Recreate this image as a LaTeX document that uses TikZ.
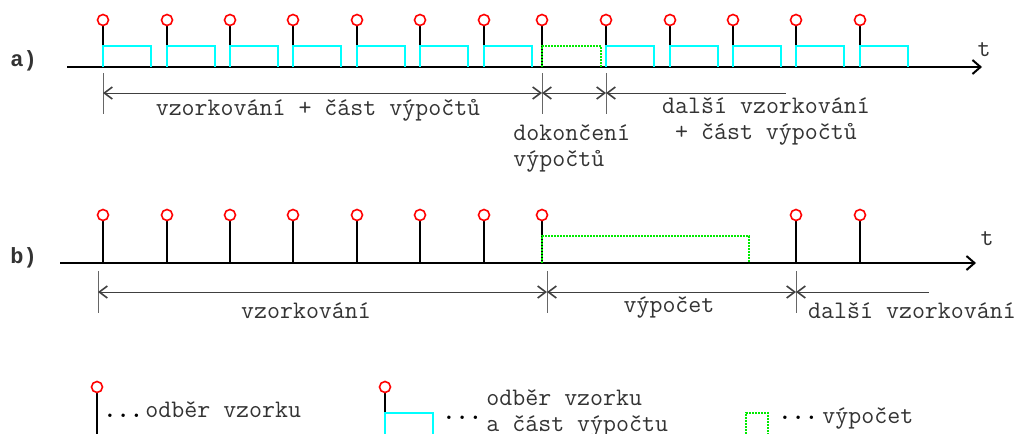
\documentclass[tikz,border=0pt]{standalone}
\usepackage{fontspec}
\newfontfamily\rowfont{Liberation Mono}
\usetikzlibrary{arrows.meta}
\definecolor{smpRed}{rgb}{1,0,0}
\definecolor{partCyan}{rgb}{0,1,1}
\definecolor{calcGreen}{rgb}{0,0.92,0}
\definecolor{txtGray}{gray}{0.2}
\tikzset{
  axis/.style={line width=1pt, -{Straight Barb[length=4pt,width=7pt]}},
  stem/.style={line width=1pt, black},
  probe/.style={draw=smpRed, line width=0.8pt, fill=white},
  part/.style={draw=partCyan, line width=1pt},
  calcbox/.style={draw=calcGreen, line width=0.8pt, dash pattern=on 0.8pt off 0.7pt},
  ext/.style={draw=black!60, line width=0.5pt},
  dim/.style={draw=black!75, line width=0.5pt},
  lbl/.style={font=\ttfamily\fontsize{12.6}{13}\selectfont, text=txtGray, inner sep=0pt},
  rowlbl/.style={font=\rowfont\bfseries\fontsize{11}{13}\selectfont, text=txtGray, inner sep=0pt},
  dots/.style={font=\ttfamily\bfseries\fontsize{12.6}{13}\selectfont, inner sep=0pt}
}

\begin{document}
\begin{tikzpicture}[x=0.5pt, y=-0.5pt, >={Straight Barb[length=4pt,width=6pt,line width=0.8pt]}]
  \useasboundingbox (0,0) rectangle (1024,434);

  % a) sampling with part of the computation after each sample
  \coordinate (axA0) at (67,67);
  \coordinate (axA1) at (982,67);
  \draw[axis] (axA0) -- (axA1);
  \node[rowlbl, anchor=base west] (labA) at (10,66) {a)};
  \node[lbl, anchor=base] (tA) at (984,56) {t};
  \foreach \x in {103,167,230,293,357,420,484,542,606,670,733,796,860}
    \draw[stem] (\x,25) -- (\x,67);
  \foreach \x in {103,167,230,293,357,420,484,606,670,733,796,860}
    \draw[part] (\x,67) -- (\x,46) -- ({\x+48},46) -- ({\x+48},67);
  \draw[calcbox] (542,67) -- (542,46) -- (601,46) -- (601,67);
  \foreach \x in {103,167,230,293,357,420,484,542,606,670,733,796,860}
    \draw[probe] (\x,20) circle (5.5);

  % dimensions
  \foreach \x in {103,542,606}
    \draw[ext] (\x,73) -- (\x,114);
  \coordinate (dA0) at (103,93);
  \coordinate (dA1) at (542,93);
  \coordinate (dA2) at (606,93);
  \coordinate (dA3) at (786,93);
  \draw[dim, <->] (dA0) -- (dA1);
  \draw[dim, <->] (dA1) -- (dA2);
  \draw[dim, <-] (dA2) -- (dA3);
  \node[lbl, anchor=base] (sampA) at (318,115) {vzorkování + část výpočtů};
  \node[lbl, anchor=west, align=left] (finA) at (513,148) {dokončení\\výpočtů};
  \node[lbl, align=center] (nextA) at (766,121) {další vzorkování\\+ část výpočtů};

  % b) sampling first, then the whole computation
  \coordinate (axB0) at (60,263);
  \coordinate (axB1) at (976,263);
  \draw[axis] (axB0) -- (axB1);
  \node[rowlbl, anchor=base west] (labB) at (10,263) {b)};
  \node[lbl, anchor=base] (tB) at (987,245) {t};
  \foreach \x in {103,167,230,293,357,420,484,542,796,860}
    \draw[stem] (\x,220) -- (\x,263);
  \draw[calcbox] (542,263) -- (542,236) -- (749,236) -- (749,263);
  \foreach \x in {103,167,230,293,357,420,484,542,796,860}
    \draw[probe] (\x,215) circle (5.5);

  \foreach \x in {98,547,796}
    \draw[ext] (\x,271) -- (\x,313);
  \coordinate (dB0) at (98,292);
  \coordinate (dB1) at (547,292);
  \coordinate (dB2) at (796,292);
  \coordinate (dB3) at (929,292);
  \draw[dim, <->] (dB0) -- (dB1);
  \draw[dim, <->] (dB1) -- (dB2);
  \draw[dim, <-] (dB2) -- (dB3);
  \node[lbl, anchor=base] (sampB) at (306,318) {vzorkování};
  \node[lbl, anchor=base] (calcB) at (669,312) {výpočet};
  \node[lbl, anchor=base] (nextB) at (912,318) {další vzorkování};

  % legend
  \draw[stem] (97,392) -- (97,434);
  \draw[probe] (97,387) circle (5.5);
  \node[dots, anchor=base west] (dots1) at (103,417) {...};
  \node[lbl, anchor=base west] (leg1) at (145,417) {odběr vzorku};

  \draw[stem] (385,392) -- (385,413);
  \draw[part] (385,434) -- (385,413) -- (433,413) -- (433,434);
  \draw[probe] (385,387) circle (5.5);
  \node[dots, anchor=base west] (dots2) at (442,419) {...};
  \node[lbl, anchor=west, align=left] (leg2) at (486,413) {odběr vzorku\\a část výpočtu};

  \draw[calcbox] (746,434) -- (746,413) -- (768,413) -- (768,434);
  \node[dots, anchor=base west] (dots3) at (778,419) {...};
  \node[lbl, anchor=base west] (leg3) at (822,423) {výpočet};
\end{tikzpicture}
\end{document}
